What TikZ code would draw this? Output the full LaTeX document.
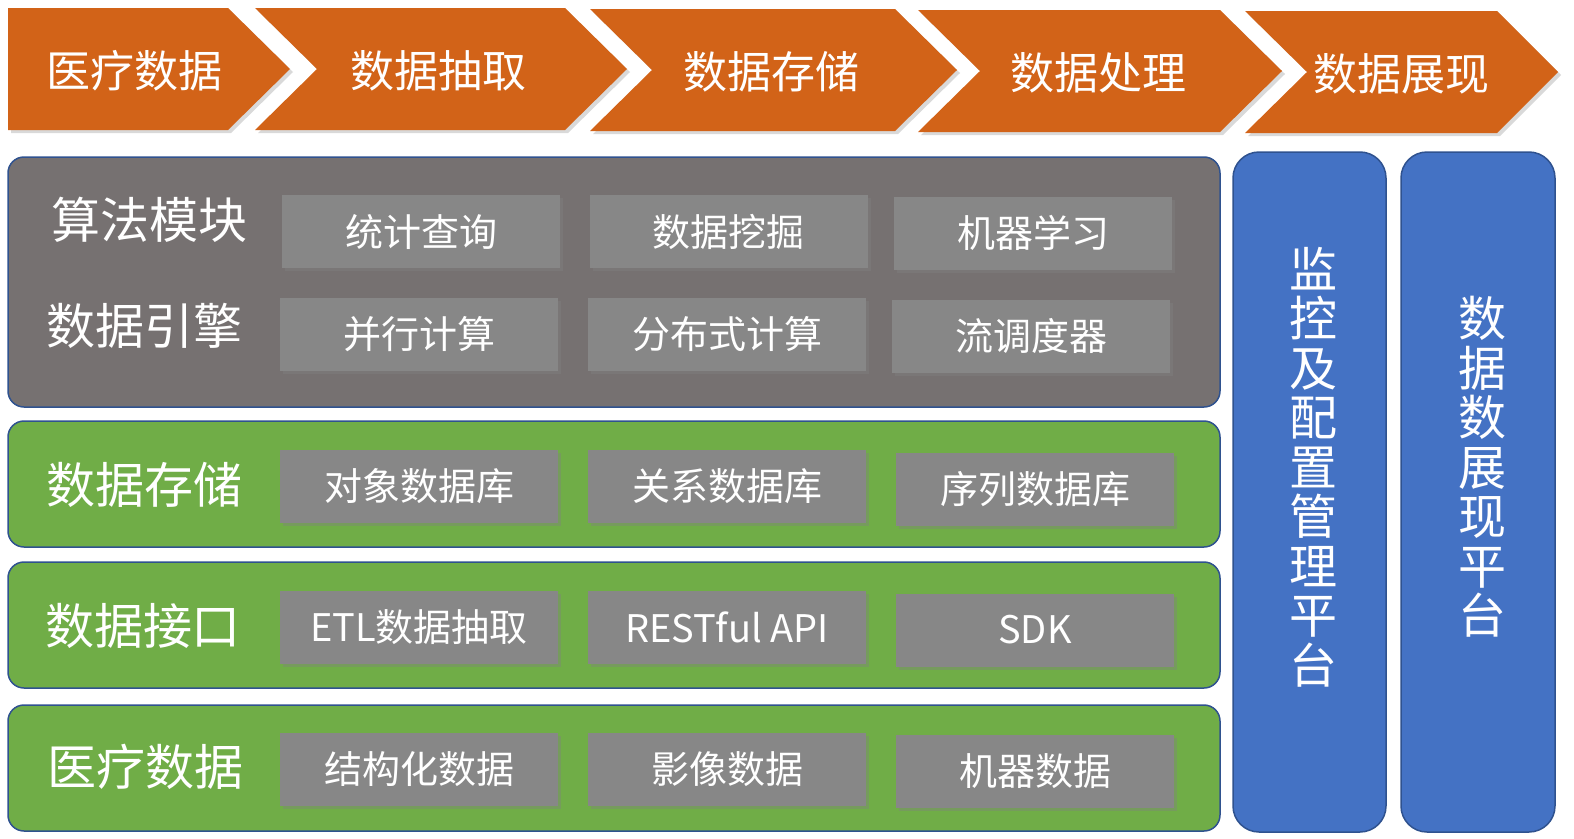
\documentclass[tikz,border=0pt]{standalone}
\usepackage{fontspec}
\setmainfont{Noto Sans CJK SC}
\usetikzlibrary{shadows}
\definecolor{orng}{RGB}{210,99,24}
\definecolor{panelgray}{RGB}{118,113,113}
\definecolor{boxgray}{RGB}{135,135,135}
\definecolor{grn}{RGB}{112,173,71}
\definecolor{blu}{RGB}{68,114,196}
\definecolor{edge}{RGB}{47,82,143}
\begin{document}
\begin{tikzpicture}[x=1pt,y=-1pt,
  chev/.style={fill=orng, drop shadow={shadow xshift=3pt, shadow yshift=-3pt, opacity=0.3}},
  chevtext/.style={text=white, font=\fontsize{44}{46}\selectfont},
  panel/.style={draw=edge, line width=1.5pt, rounded corners=16pt},
  vpanel/.style={draw=edge, line width=1.5pt, rounded corners=26pt, fill=blu},
  inbox/.style={fill=boxgray, minimum width=278pt, minimum height=73pt, inner sep=0pt,
    drop shadow={shadow xshift=3pt, shadow yshift=-3pt, opacity=0.4},
    text=white, font=\fontsize{38}{40}\selectfont},
  lbl/.style={text=white, font=\fontsize{49}{50}\selectfont},
  vtext/.style={text=white, font=\fontsize{48}{49.5}\selectfont, align=center}
]
\useasboundingbox (0,0) rectangle (1574,838);
% chevrons
\path[chev] (8,8) -- (228,8) -- (290,69) -- (228,130) -- (8,130) -- cycle;
\path[chev] (255,8) -- (565,8) -- (627,69) -- (565,130) -- (255,130) -- (317,69) -- cycle;
\path[chev] (590,9) -- (895,9) -- (957,70) -- (895,131) -- (590,131) -- (652,70) -- cycle;
\path[chev] (918,10) -- (1220,10) -- (1282,71) -- (1220,132) -- (918,132) -- (980,71) -- cycle;
\path[chev] (1245,11) -- (1497,11) -- (1558,72) -- (1497,133) -- (1245,133) -- (1307,72) -- cycle;
\node[chevtext] (c1) at (134,71) {医疗数据};
\node[chevtext] (c2) at (438,71) {数据抽取};
\node[chevtext] (c3) at (771,72) {数据存储};
\node[chevtext] (c4) at (1098,73) {数据处理};
\node[chevtext] (c5) at (1401,74) {数据展现};
% panels
\path[panel, fill=panelgray] (8,157) rectangle (1220,407);
\path[panel, fill=grn] (8,421) rectangle (1220,547);
\path[panel, fill=grn] (8,562) rectangle (1220,688);
\path[panel, fill=grn] (8,705) rectangle (1220,831);
\path[vpanel] (1233,152) rectangle (1386,832);
\path[vpanel] (1401,152) rectangle (1555,832);
% left labels
\node[lbl] (l1) at (149,220) {算法模块};
\node[lbl] (l2) at (144,326) {数据引擎};
\node[lbl] (l3) at (144,485) {数据存储};
\node[lbl] (l4) at (143,626) {数据接口};
\node[lbl] (l5) at (145,767) {医疗数据};
% inner boxes
\node[inbox] (b11) at (421,231.5) {统计查询};
\node[inbox] (b12) at (728.5,231.5) {数据挖掘};
\node[inbox] (b13) at (1033,233) {机器学习};
\node[inbox] (b21) at (419,334.5) {并行计算};
\node[inbox] (b22) at (727,334.5) {分布式计算};
\node[inbox] (b23) at (1031,336) {流调度器};
\node[inbox] (b31) at (419,486.5) {对象数据库};
\node[inbox] (b32) at (727,486.5) {关系数据库};
\node[inbox] (b33) at (1035,489) {序列数据库};
\node[inbox] (b41) at (419,627.5) {ETL数据抽取};
\node[inbox] (b42) at (727,627.5) {RESTful API};
\node[inbox] (b43) at (1035,630) {SDK};
\node[inbox] (b51) at (419,769.5) {结构化数据};
\node[inbox] (b52) at (727,769.5) {影像数据};
\node[inbox] (b53) at (1035,771.5) {机器数据};
% vertical texts
\node[vtext] (v1) at (1313,467) {监\\控\\及\\配\\置\\管\\理\\平\\台};
\node[vtext] (v2) at (1482,467) {数\\据\\数\\展\\现\\平\\台};
\end{tikzpicture}
\end{document}
